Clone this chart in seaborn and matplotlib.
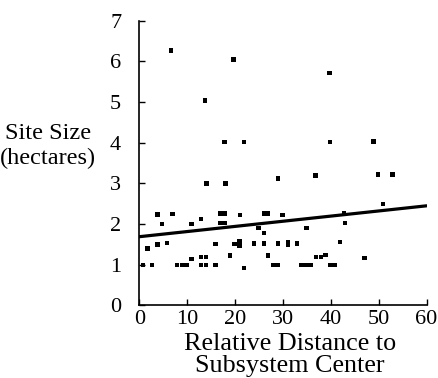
import matplotlib
matplotlib.use("Agg")
import matplotlib.pyplot as plt
import seaborn as sns
import pandas as pd

distance = [6.6, 19.7, 13.7, 39.7, 17.8, 21.9, 39.8, 48.9, 36.8, 49.9, 52.9, 29.0, 14.0, 18.0, 50.9,
            3.8, 6.9, 16.85, 17.8, 21.0, 26.0, 26.9, 29.9, 42.8,
            12.9,
            4.8, 10.9, 16.85, 17.8, 42.9,
            24.9, 34.9, 26.0,
            1.75, 3.8, 5.8, 15.9, 19.9, 20.9, 20.9, 23.9, 26.0, 29.0, 31.0, 31.0, 32.9, 41.9,
            10.9, 12.9, 13.9, 18.9, 26.9, 36.9, 37.9, 38.9, 47.0,
            0.8, 2.7, 7.9, 8.9, 9.9, 12.9, 13.9, 15.9, 28.0, 29.0, 33.9, 34.9, 35.9, 39.9, 40.9,
            21.9]
site_size = [6.27, 6.05, 5.04, 5.71, 4.02, 4.02, 4.02, 4.03, 3.20, 3.22, 3.22, 3.12, 3.00, 3.00, 2.50,
             2.24, 2.25, 2.26, 2.26, 2.22, 2.26, 2.26, 2.22, 2.27,
             2.13,
             2.00, 2.00, 2.02, 2.02, 2.03,
             1.91, 1.91, 1.78,
             1.40, 1.50, 1.54, 1.51, 1.51, 1.57, 1.47, 1.52, 1.52, 1.52, 1.55, 1.49, 1.52, 1.56,
             1.14, 1.19, 1.19, 1.23, 1.23, 1.19, 1.19, 1.24, 1.17,
             1.00, 1.00, 1.00, 1.00, 1.00, 1.00, 1.00, 1.00, 1.00, 1.00, 1.00, 1.00, 1.00, 1.00, 1.00,
             0.92]

trend_x = [0, 60]
trend_y = [1.69, 2.45]

x_ticks = [0, 10, 20, 30, 40, 50, 60]
y_ticks = [0, 1, 2, 3, 4, 5, 6, 7]

sns.set_theme(style="ticks")
plt.rcParams['font.family'] = ['Liberation Serif', 'DejaVu Serif']

fig = plt.figure(figsize=(4.38, 3.78), dpi=100)
ax = fig.add_axes([0.318, 0.192, 0.656, 0.753])

pts = pd.DataFrame({"d": distance, "s": site_size})
line = pd.DataFrame({"d": trend_x, "s": trend_y})

sns.scatterplot(data=pts, x="d", y="s", ax=ax, color="black", marker="s", s=10,
                linewidth=0, edgecolor="none")
sns.lineplot(data=line, x="d", y="s", ax=ax, color="black", linewidth=2.3)

ax.set_xlim(0, 60)
ax.set_ylim(0, 7)
ax.set_xticks(x_ticks)
ax.set_yticks(y_ticks)
ax.tick_params(direction="in", length=4, width=1, labelsize=16, colors="black")
ax.tick_params(axis="x", pad=3)
ax.tick_params(axis="y", pad=13)
for side in ["top", "right"]:
    ax.spines[side].set_visible(False)
for side in ["left", "bottom"]:
    ax.spines[side].set_linewidth(1.2)
    ax.spines[side].set_color("black")

ax.set_xlabel("Relative Distance to\nSubsystem Center", fontsize=18.8, linespacing=1.0,
              color="black", va="top")
ax.xaxis.set_label_coords(0.524, -0.097)
ax.set_ylabel("Site Size\n(hectares)", fontsize=17.5, rotation=0, ha="center", va="center",
              linespacing=1.3, color="black")
ax.yaxis.set_label_coords(-0.318, 0.56)

fig.savefig("out.png", dpi=100)
